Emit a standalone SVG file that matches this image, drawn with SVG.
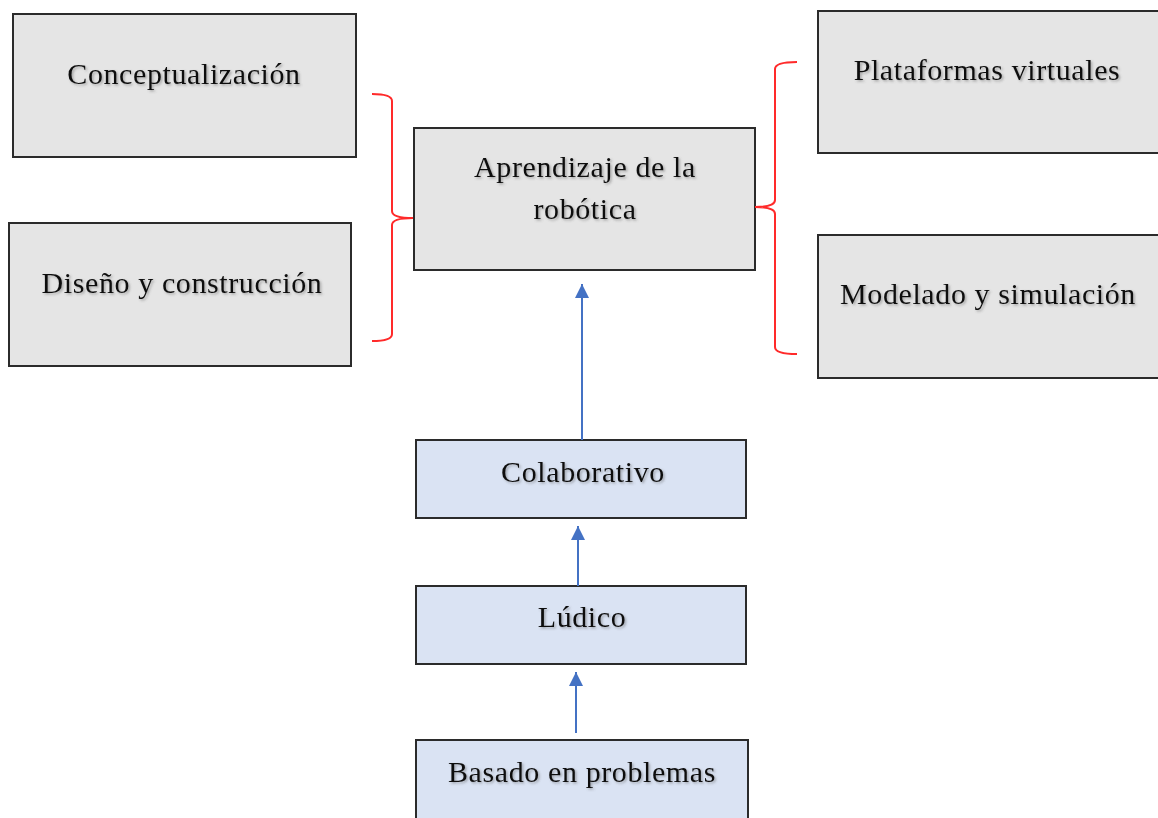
<svg xmlns="http://www.w3.org/2000/svg" width="1158" height="818" viewBox="0 0 1158 818">
<style>
.g{fill:#e5e5e5;stroke:#2b2b2b;stroke-width:2}
.b{fill:#dae3f3;stroke:#2b2b2b;stroke-width:2}
.t{font-family:"Liberation Serif","Times New Roman",serif;font-size:30px;letter-spacing:0.6px;fill:#111;text-anchor:middle;filter:url(#sh)}
.br{fill:none;stroke:#ff2a2a;stroke-width:2}
.ar{stroke:#4472c4;stroke-width:2;fill:none;marker-end:url(#ah)}
</style>
<defs>
<filter id="sh" x="-10%" y="-30%" width="120%" height="160%">
<feDropShadow dx="1.5" dy="1.5" stdDeviation="1" flood-color="#555" flood-opacity="0.45"/>
</filter>
<marker id="ah" viewBox="0 0 10 10" refX="10" refY="5" markerWidth="7" markerHeight="7.5" markerUnits="strokeWidth" orient="auto">
<path d="M0,0 L10,5 L0,10 Z" fill="#4472c4"/>
</marker>
</defs>
<rect width="1158" height="818" fill="#fff"/>
<g id="conceptualizacion"><rect class="g" x="13" y="14" width="343" height="143"/><text class="t" x="184" y="84">Conceptualización</text></g>
<g id="diseno"><rect class="g" x="9" y="223" width="342" height="143"/><text class="t" x="182" y="293">Diseño y construcción</text></g>
<g id="aprendizaje"><rect class="g" x="414" y="128" width="341" height="142"/><text class="t" x="585" y="177">Aprendizaje de la</text><text class="t" x="585" y="219">robótica</text></g>
<g id="plataformas"><rect class="g" x="818" y="11" width="345" height="142"/><text class="t" x="987" y="80">Plataformas virtuales</text></g>
<g id="modelado"><rect class="g" x="818" y="235" width="345" height="143"/><text class="t" x="988" y="304">Modelado y simulación</text></g>
<g id="colaborativo"><rect class="b" x="416" y="440" width="330" height="78"/><text class="t" x="583" y="482">Colaborativo</text></g>
<g id="ludico"><rect class="b" x="416" y="586" width="330" height="78"/><text class="t" x="582" y="627">Lúdico</text></g>
<g id="basado"><rect class="b" x="416" y="740" width="332" height="90"/><text class="t" x="582" y="782">Basado en problemas</text></g>
<g id="connectors">
<path class="br" d="M372,94 Q392,94 392,101 L392,211 Q392,218 413,218 Q392,218 392,225 L392,334 Q392,341 372,341"/>
<path class="br" d="M797,62 Q775,62 775,69 L775,200 Q775,207 755,207 Q775,207 775,214 L775,347 Q775,354 797,354"/>
<line class="ar" x1="582" y1="440" x2="582" y2="284"/>
<line class="ar" x1="578" y1="586" x2="578" y2="526"/>
<line class="ar" x1="576" y1="733" x2="576" y2="672"/>
</g>
</svg>
